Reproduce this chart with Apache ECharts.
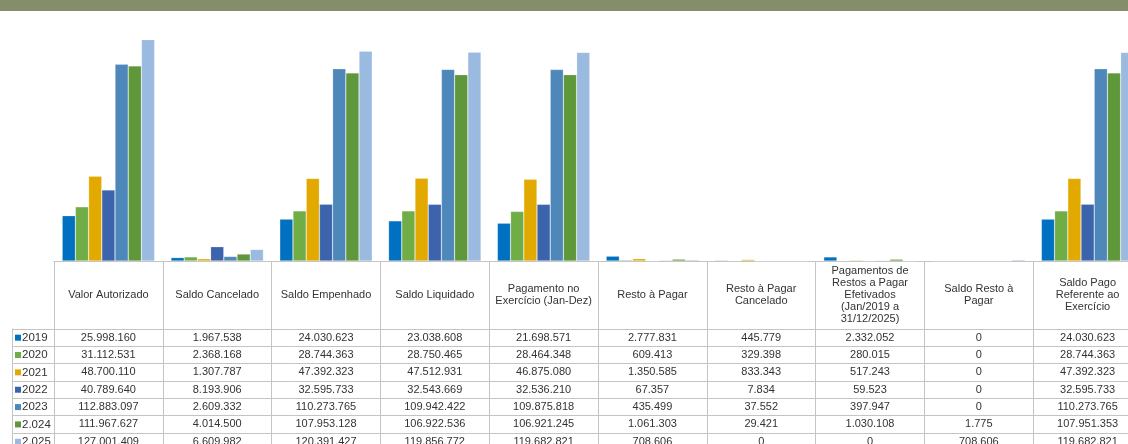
<!DOCTYPE html>
<html>
<head>
<meta charset="utf-8">
<script src="https://cdn.jsdelivr.net/npm/echarts@6/dist/echarts.min.js"></script>
<style>
  html, body { margin: 0; padding: 0; background: #fff; overflow: hidden; }
  #band { height: 11px; background: #848e6b; width: 1128px; }
  #main { width: 1160px; height: 433px; }
</style>
</head>
<body>
<div id="band"></div>
<div id="main"></div>
<script>
var categories = [
  'Valor Autorizado', 'Saldo Cancelado', 'Saldo Empenhado', 'Saldo Liquidado',
  'Pagamento no\nExercício (Jan-Dez)', 'Resto à Pagar', 'Resto à Pagar\nCancelado',
  'Pagamentos de\nRestos a Pagar\nEfetivados\n(Jan/2019 a\n31/12/2025)',
  'Saldo Resto à\nPagar', 'Saldo Pago\nReferente ao\nExercício'
];
var years = ['2019', '2020', '2021', '2022', '2023', '2.024', '2.025'];
var colors = ['#0070c0', '#70ad47', '#e2aa00', '#3b64ad', '#4e87ba', '#5f973b', '#9abae0'];

var v2019 = [25998160, 1967538, 24030623, 23038608, 21698571, 2777831, 445779, 2332052, 0, 24030623];
var v2020 = [31112531, 2368168, 28744363, 28750465, 28464348, 609413, 329398, 280015, 0, 28744363];
var v2021 = [48700110, 1307787, 47392323, 47512931, 46875080, 1350585, 833343, 517243, 0, 47392323];
var v2022 = [40789640, 8193906, 32595733, 32543669, 32536210, 67357, 7834, 59523, 0, 32595733];
var v2023 = [112883097, 2609332, 110273765, 109942422, 109875818, 435499, 37552, 397947, 0, 110273765];
var v2024 = [111967627, 4014500, 107953128, 106922536, 106921245, 1061303, 29421, 1030108, 1775, 107951353];
var v2025 = [127001409, 6609982, 120391427, 119856772, 119682821, 708606, 0, 0, 708606, 119682821];
var values = [v2019, v2020, v2021, v2022, v2023, v2024, v2025];

function fmt(n) {
  return String(n).replace(/\B(?=(\d{3})+(?!\d))/g, '.');
}

// table geometry (chart coords, band above is 11px)
var gridLeft = 54, gridTop = 6, gridHeight = 244, colW = 108.8;
var axisY = gridTop + gridHeight;
var headBottom = axisY + 67.5;
var rowH = 17.35;
var tableLeft = 12, tableRight = gridLeft + colW * categories.length;
var lineColor = '#c4c4c4';
var textColor = '#333';

var graphics = [];
for (var k = 0; k <= years.length; k++) {
  var y = Math.round(headBottom + rowH * k) + 0.5;
  graphics.push({ type: 'line', shape: { x1: tableLeft, y1: y, x2: tableRight, y2: y },
    style: { stroke: lineColor, lineWidth: 1 } });
}
graphics.push({ type: 'line', shape: { x1: tableLeft + 0.5, y1: headBottom, x2: tableLeft + 0.5, y2: 440 },
  style: { stroke: lineColor, lineWidth: 1 } });

years.forEach(function (yr, r) {
  var cy = headBottom + rowH * (r + 0.5) + 0.5;
  graphics.push({ type: 'rect', shape: { x: 15, y: cy - 3, width: 6, height: 6 },
    style: { fill: colors[r] } });
  graphics.push({ type: 'text', x: 22, y: cy,
    style: { text: yr, fontSize: 11.5, fontFamily: 'Liberation Sans, Arial, sans-serif',
      fill: textColor, textAlign: 'left', textVerticalAlign: 'middle' } });
  values[r].forEach(function (v, c) {
    graphics.push({ type: 'text', x: gridLeft + colW * (c + 0.5), y: cy,
      style: { text: fmt(v), fontSize: 11, fontFamily: 'Liberation Sans, Arial, sans-serif',
        fill: textColor, textAlign: 'center', textVerticalAlign: 'middle' } });
  });
});

var myChart = echarts.init(document.getElementById('main'));

var option = {
  backgroundColor: '#fff',
  animation: false,
  grid: { left: gridLeft, top: gridTop, width: colW * categories.length, height: gridHeight },
  xAxis: {
    type: 'category',
    data: categories,
    axisLine: { show: true, lineStyle: { color: lineColor, width: 1 } },
    axisTick: { show: true, interval: 0, length: 200, lineStyle: { color: lineColor, width: 1 } },
    axisLabel: {
      interval: 0, margin: 33.5, verticalAlign: 'middle', align: 'center',
      fontSize: 11, lineHeight: 12, color: textColor,
      fontFamily: 'Liberation Sans, Arial, sans-serif'
    }
  },
  yAxis: { type: 'value', min: 0, max: 140000000, show: false, splitLine: { show: false } },
  series: years.map(function (yr, i) {
    return {
      name: yr,
      type: 'bar',
      data: values[i],
      barGap: '0%',
      barCategoryGap: '15%',
      itemStyle: { color: colors[i], borderColor: 'rgba(255,255,255,0.35)', borderWidth: 0.6 }
    };
  }),
  graphic: graphics
};

myChart.setOption(option);
</script>
</body>
</html>
